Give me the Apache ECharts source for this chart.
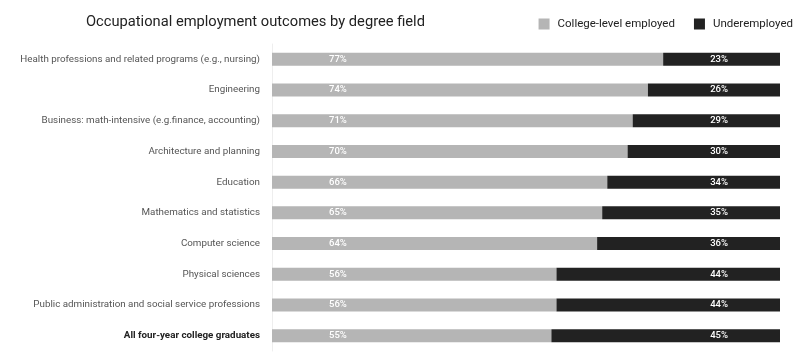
<!DOCTYPE html>
<html>
<head>
<meta charset="utf-8">
<script src="https://cdn.jsdelivr.net/npm/echarts@6/dist/echarts.min.js"></script>
<style>
html,body{margin:0;padding:0;background:#fff;}
#chart{width:810px;height:356px;}
</style>
</head>
<body>
<div id="chart"></div>
<script>
var categories = [
  "Health professions and related programs (e.g., nursing)",
  "Engineering",
  "Business: math-intensive (e.g.finance, accounting)",
  "Architecture and planning",
  "Education",
  "Mathematics and statistics",
  "Computer science",
  "Physical sciences",
  "Public administration and social service professions",
  "All four-year college graduates"
];
var collegeLevel = [77, 74, 71, 70, 66, 65, 64, 56, 56, 55];
var underemployed = [23, 26, 29, 30, 34, 35, 36, 44, 44, 45];
var seriesNames = ["College-level employed", "Underemployed"];
var titleText = "Occupational employment outcomes by degree field";

var FONT = "Roboto, 'Noto Sans', sans-serif";
var chart = echarts.init(document.getElementById('chart'));
chart.setOption({
  animation: false,
  textStyle: {fontFamily: FONT},
  title: {
    text: titleText,
    left: 81, top: 10,
    textStyle: {fontFamily: FONT, fontSize: 14.7, fontWeight: 'normal', color: '#222'}
  },
  legend: {
    right: 12, top: 13,
    itemWidth: 11, itemHeight: 11, itemGap: 19,
    icon: 'rect',
    textStyle: {fontFamily: FONT, fontSize: 11.5, color: '#222', padding: [0,0,0,3]},
    data: seriesNames
  },
  grid: {left: 272, right: 30, top: 44, bottom: 5, containLabel: false},
  xAxis: {
    type: 'value', min: 0, max: 100, show: false
  },
  yAxis: {
    type: 'category', inverse: true, data: categories,
    axisLine: {show: true, lineStyle: {color: '#eeeeee'}},
    axisTick: {show: false},
    axisLabel: {
      margin: 12, fontSize: 9.8, color: '#555',
      formatter: function (v, i) { return i === categories.length - 1 ? '{b|' + v + '}' : v; },
      rich: {b: {fontWeight: 'bold', color: '#222', fontSize: 9.8, fontFamily: FONT}}
    }
  },
  series: [
    {
      name: seriesNames[0], type: 'bar', stack: 's', barWidth: 13,
      itemStyle: {color: '#b5b5b5'},
      data: collegeLevel,
      label: {show: true, position: 'insideLeft', distance: 57, color: '#fff', fontSize: 9.5, fontWeight: 500, formatter: '{c}%'}
    },
    {
      name: seriesNames[1], type: 'bar', stack: 's', barWidth: 13,
      itemStyle: {color: '#222222'},
      data: underemployed,
      label: {show: true, position: 'insideRight', distance: 52, color: '#fff', fontSize: 9.5, fontWeight: 500, formatter: '{c}%'}
    }
  ]
});
</script>
</body>
</html>
